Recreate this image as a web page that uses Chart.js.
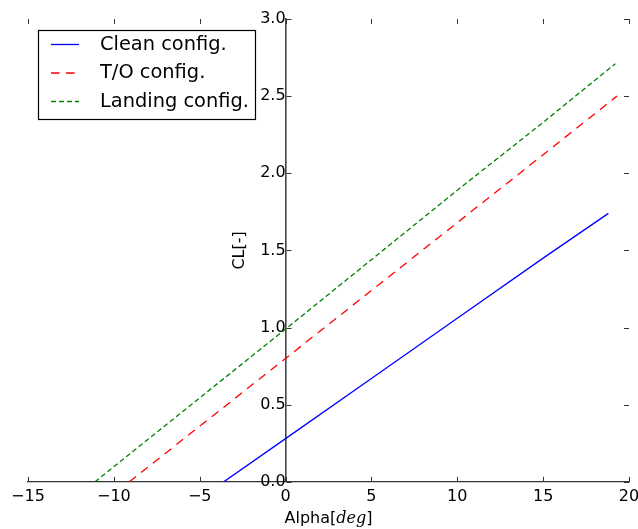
<!DOCTYPE html>
<html>
<head>
<meta charset="utf-8">
<script src="https://cdn.jsdelivr.net/npm/chart.js@4.4.1/dist/chart.umd.min.js"></script>
<style>
  html, body { margin: 0; padding: 0; background: #fff; }
  #wrap { width: 638px; height: 529px; }
</style>
</head>
<body>
<div id="wrap"><canvas id="liftChart"></canvas></div>
<script>
// Lift curves, values
const seriesNames = ["Clean config.", "T/O config.", "Landing config."];
const alphaClean = [-3.6, 0, 5, 10, 15, 18.8];
const clClean = [0, 0.28, 0.67, 1.06, 1.45, 1.74];
const alphaTO = [-9.1, 0, 5, 10, 15, 19.3];
const clTO = [0, 0.80, 1.24, 1.68, 2.12, 2.50];
const alphaLanding = [-11.1, 0, 5, 10, 15, 19.2];
const clLanding = [0, 0.99, 1.44, 1.89, 2.33, 2.71];
const xTicks = [-15, -10, -5, 0, 5, 10, 15, 20];
const yTicks = [0, 0.5, 1, 1.5, 2, 2.5, 3];

const FONT = "DejaVu Sans";
const AXIS_SIZE = 16;
const toPoints = (xs, ys) => xs.map((x, i) => ({ x: x, y: ys[i] }));

// inward tick marks on all four sides (y ticks sit on the zero spine)
const tickMarks = {
  id: "tickMarks",
  afterDraw(chart) {
    const { ctx, chartArea: a, scales: { x, y } } = chart;
    const x0 = Math.round(x.getPixelForValue(0)) + 0.5;
    ctx.save();
    ctx.strokeStyle = "#333";
    ctx.lineWidth = 1;
    ctx.beginPath();
    x.ticks.forEach(t => {
      const px = Math.round(x.getPixelForValue(t.value)) + 0.5;
      ctx.moveTo(px, a.bottom); ctx.lineTo(px, a.bottom - 5);
      ctx.moveTo(px, a.top); ctx.lineTo(px, a.top + 5);
    });
    y.ticks.forEach(t => {
      const py = Math.round(y.getPixelForValue(t.value)) + 0.5;
      ctx.moveTo(x0, py); ctx.lineTo(x0 + 5, py);
      ctx.moveTo(a.right, py); ctx.lineTo(a.right - 5, py);
    });
    ctx.stroke();

    // axis titles
    ctx.fillStyle = "#000";
    ctx.textBaseline = "middle";
    const parts = [["Alpha[", AXIS_SIZE + "px " + FONT], ["deg", "italic " + AXIS_SIZE + "px 'DejaVu Serif'"], ["]", AXIS_SIZE + "px " + FONT]];
    let total = 0;
    parts.forEach(p => { ctx.font = p[1]; total += ctx.measureText(p[0]).width; });
    let tx = (a.left + a.right) / 2 - total / 2;
    parts.forEach(p => {
      ctx.font = p[1];
      ctx.textAlign = "left";
      ctx.fillText(p[0], tx, 519);
      tx += ctx.measureText(p[0]).width;
    });
    ctx.translate(240, (a.top + a.bottom) / 2);
    ctx.rotate(-Math.PI / 2);
    ctx.font = AXIS_SIZE + "px " + FONT;
    ctx.textAlign = "center";
    ctx.fillText("CL[-]", 0, 0);
    ctx.restore();
  }
};

// framed legend in the upper left corner
const boxLegend = {
  id: "boxLegend",
  afterDraw(chart) {
    const ctx = chart.ctx;
    ctx.save();
    ctx.fillStyle = "#fff";
    ctx.strokeStyle = "#000";
    ctx.lineWidth = 1.2;
    ctx.fillRect(38.5, 30.5, 217, 89);
    ctx.strokeRect(38.5, 30.5, 217, 89);
    chart.data.datasets.forEach((ds, i) => {
      const yy = 44.5 + i * 28.5;
      ctx.strokeStyle = ds.borderColor;
      ctx.lineWidth = ds.borderWidth;
      ctx.setLineDash(ds.borderDash || []);
      ctx.beginPath();
      ctx.moveTo(51, yy);
      ctx.lineTo(79, yy);
      ctx.stroke();
      ctx.setLineDash([]);
      ctx.fillStyle = "#000";
      ctx.font = "19.4px " + FONT;
      ctx.textBaseline = "middle";
      ctx.fillText(ds.label, 100, yy);
    });
    ctx.restore();
  }
};

const ctx = document.getElementById("liftChart").getContext("2d");
new Chart(ctx, {
  type: "scatter",
  data: {
    datasets: [
      {
        label: seriesNames[0],
        data: toPoints(alphaClean, clClean),
        borderColor: "#0000ff",
        borderWidth: 1.3,
        showLine: true,
        pointRadius: 0,
      },
      {
        label: seriesNames[1],
        data: toPoints(alphaTO, clTO),
        borderColor: "#ff0000",
        borderWidth: 1.3,
        borderDash: [8.5, 6.5],
        showLine: true,
        pointRadius: 0,
      },
      {
        label: seriesNames[2],
        data: toPoints(alphaLanding, clLanding),
        borderColor: "#008000",
        borderWidth: 1.3,
        borderDash: [5, 3],
        showLine: true,
        pointRadius: 0,
      },
    ],
  },
  options: {
    responsive: true,
    maintainAspectRatio: false,
    animation: false,
    layout: { padding: { left: 28, right: 9, top: 19, bottom: 18 } },
    plugins: { legend: { display: false }, tooltip: { enabled: false } },
    scales: {
      x: {
        type: "linear",
        min: -15,
        max: 20,
        position: "bottom",
        afterBuildTicks: s => { s.ticks = xTicks.map(v => ({ value: v })); },
        afterFit: s => { s.paddingRight = 9; },
        grid: { display: false, drawTicks: false },
        border: { color: "#333", width: 1.3 },
        ticks: {
          padding: 5,
          color: "#000",
          font: { family: FONT, size: AXIS_SIZE },
          maxRotation: 0,
          callback: v => String(v).replace("-", "\u2212"),
        },
      },
      y: {
        type: "linear",
        min: 0,
        max: 3,
        position: { x: 0 },
        afterBuildTicks: s => { s.ticks = yTicks.map(v => ({ value: v })); },
        grid: { display: false, drawTicks: false },
        border: { color: "#444", width: 1.6 },
        ticks: {
          padding: 8,
          color: "#000",
          font: { family: FONT, size: AXIS_SIZE },
          callback: v => v.toFixed(1),
        },
      },
    },
  },
  plugins: [tickMarks, boxLegend],
});
</script>
</body>
</html>
